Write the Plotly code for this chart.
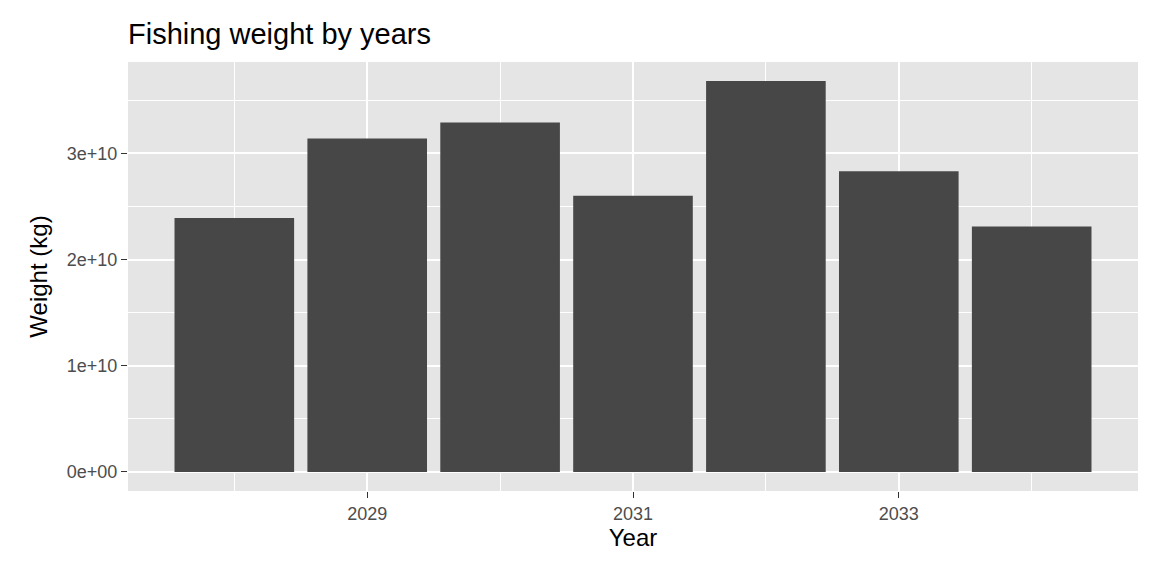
import plotly.graph_objects as go

years = [2028, 2029, 2030, 2031, 2032, 2033, 2034]
weights = [2.39e10, 3.14e10, 3.29e10, 2.60e10, 3.68e10, 2.83e10, 2.31e10]
ytickvals = [0, 1e10, 2e10, 3e10]
yticktext = ["0e+00", "1e+10", "2e+10", "3e+10"]
xtickvals = [2029, 2031, 2033]

fig = go.Figure(go.Bar(x=years, y=weights, width=0.9, marker=dict(color="#474747", line=dict(width=0))))
fig.update_layout(
    width=1152, height=576,
    margin=dict(l=120, r=22, t=54, b=93, autoexpand=False),
    paper_bgcolor="white", plot_bgcolor="#E5E5E5",
    font=dict(family="Liberation Sans, Arial", size=18, color="#4D4D4D"),
    title=dict(text="Fishing weight by years", x=120/1152, xanchor="left", y=0.955, yanchor="middle",
               font=dict(size=29, color="black")),
    showlegend=False,
    xaxis=dict(range=[2027.2, 2034.8], tickvals=xtickvals, ticktext=[str(v) for v in xtickvals],
               gridcolor="white", gridwidth=2, zeroline=False,
               ticks="outside", ticklen=6, tickcolor="#333333", automargin=False,
               minor=dict(tickvals=[2028, 2030, 2032, 2034], showgrid=True, gridcolor="white", gridwidth=1),
               title=dict(text="Year", font=dict(size=24, color="black"), standoff=6)),
    yaxis=dict(range=[-0.18e10, 3.86e10], tickvals=ytickvals, ticktext=yticktext,
               gridcolor="white", gridwidth=2, zeroline=False,
               ticks="outside", ticklen=6, tickcolor="#333333", automargin=False,
               minor=dict(tickvals=[0.5e10, 1.5e10, 2.5e10, 3.5e10], showgrid=True, gridcolor="white", gridwidth=1),
               title=dict(text="Weight (kg)", font=dict(size=24, color="black"), standoff=12)),
)
fig.write_html("out.html")
